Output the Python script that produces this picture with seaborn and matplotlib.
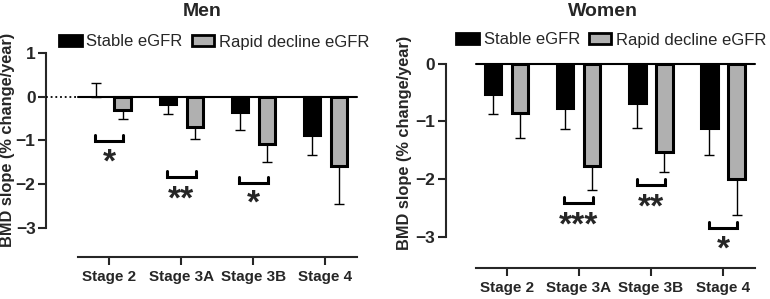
import numpy as np
import pandas as pd
import matplotlib
matplotlib.use("Agg")
import matplotlib.pyplot as plt
import matplotlib.transforms as mtransforms
from matplotlib.patches import Patch
import seaborn as sns

# data
stages = ["Stage 2", "Stage 3A", "Stage 3B", "Stage 4"]
groups = ["Stable eGFR", "Rapid decline eGFR"]

men_stable = [0.0, -0.18, -0.36, -0.89]
men_stable_err = [0.30, 0.22, 0.41, 0.44]
men_rapid = [-0.30, -0.70, -1.08, -1.58]
men_rapid_err = [0.22, 0.28, 0.42, 0.87]

women_stable = [-0.52, -0.76, -0.68, -1.11]
women_stable_err = [0.35, 0.37, 0.44, 0.46]
women_rapid = [-0.85, -1.76, -1.53, -1.99]
women_rapid_err = [0.43, 0.42, 0.34, 0.62]

# significance marks: stage index, bracket level, star level, label
men_sig_idx = [0, 1, 2]
men_sig_line = [-1.02, -1.83, -1.97]
men_sig_star = [-1.36, -2.2, -2.3]
men_sig_txt = ["*", "**", "*"]

women_sig_idx = [1, 2, 3]
women_sig_line = [-2.41, -2.10, -2.84]
women_sig_star = [-2.68, -2.37, -3.1]
women_sig_txt = ["***", "**", "*"]

BLACK = "#000000"
GREY = "#b0b0b0"

sns.set_style("ticks")
plt.rcParams["font.family"] = ["Liberation Sans", "DejaVu Sans"]
plt.rcParams["axes.linewidth"] = 1.5

W, H = 770, 299
fig = plt.figure(figsize=(W / 100, H / 100), dpi=100)


def px_axes(l, r, t, b):
    return fig.add_axes([l / W, (H - b) / H, (r - l) / W, (b - t) / H])


def panel(ax, stable, stable_err, rapid, rapid_err, ylim, ybounds, xlim,
          sig_idx, sig_line, sig_star, sig_txt, tip, dotted):
    df = pd.DataFrame({
        "stage": stages * 2,
        "group": [groups[0]] * 4 + [groups[1]] * 4,
        "value": stable + rapid,
    })
    sns.barplot(data=df, x="stage", y="value", hue="group", order=stages,
                hue_order=groups, palette=[BLACK, GREY], width=0.75, gap=0.4,
                edgecolor="black", linewidth=2.2, errorbar=None, legend=False,
                saturation=1, ax=ax, zorder=3)
    errs = [stable_err, rapid_err]
    for cont, err in zip(ax.containers, errs):
        xs = [p.get_x() + p.get_width() / 2 for p in cont.patches]
        ys = [p.get_height() for p in cont.patches]
        for p in cont.patches:
            if p.get_height() == 0:
                p.set_linewidth(0)  # empty bar, nothing drawn
        lo = [e if y < 0 else 0 for y, e in zip(ys, err)]
        hi = [e if y >= 0 else 0 for y, e in zip(ys, err)]
        ax.errorbar(xs, ys, yerr=[lo, hi], fmt="none", ecolor="black",
                    elinewidth=1.0, capsize=3.3, capthick=1.0, zorder=2)

    # zero line
    ax.plot([-0.43, 3.44], [0, 0], color="black", lw=1.5, zorder=4,
            clip_on=False)
    if dotted:
        ax.plot([xlim[0], -0.43], [0, 0], color="black", lw=1.3,
                ls=(0, (1, 1.6)), zorder=4, clip_on=False)

    star_tr = mtransforms.offset_copy(ax.transData, fig=fig, x=0, y=-5,
                                      units="points")
    for i, yl, ys, t in zip(sig_idx, sig_line, sig_star, sig_txt):
        ax.plot([i - 0.2, i - 0.2, i + 0.2, i + 0.2],
                [yl + tip, yl, yl, yl + tip], color="black", lw=2.2,
                solid_joinstyle="miter", zorder=4)
        ax.text(i, ys, t, ha="center", va="center", fontsize=24,
                fontweight="bold", transform=star_tr)

    ax.set_xlim(*xlim)
    ax.set_ylim(*ylim)
    ax.spines["top"].set_visible(False)
    ax.spines["right"].set_visible(False)
    ax.spines["left"].set_bounds(*ybounds)
    ax.spines["bottom"].set_bounds(-0.43, 3.44)
    ticks = np.arange(ybounds[0], ybounds[1] + 1)
    ax.set_yticks(ticks)
    ax.set_yticklabels([f"{v:d}".replace("-", "\u2212") for v in ticks])
    ax.tick_params(axis="y", length=5.5, width=1.5, pad=2, labelsize=12.5)
    ax.tick_params(axis="x", length=5.5, width=1.5, pad=4, labelsize=11)
    for lab in ax.get_xticklabels() + ax.get_yticklabels():
        lab.set_fontweight("bold")
    ax.set_xlabel("")
    ax.set_ylabel("BMD slope (% change/year)", fontsize=11.8,
                  fontweight="bold")


# Men
ax1 = px_axes(46, 357, 52.7, 257)
panel(ax1, men_stable, men_stable_err, men_rapid, men_rapid_err,
      ylim=(-3.664, 1.0), ybounds=(-3, 1), xlim=(-0.875, 3.44),
      sig_idx=men_sig_idx, sig_line=men_sig_line, sig_star=men_sig_star,
      sig_txt=men_sig_txt, tip=0.14, dotted=True)
ax1.yaxis.set_label_coords((15 - 46) / 311, (257 - 140) / 204.3)

# Women
ax2 = px_axes(445.7, 754, 63.5, 268)
panel(ax2, women_stable, women_stable_err, women_rapid, women_rapid_err,
      ylim=(-3.526, 0.0), ybounds=(-3, 0), xlim=(-0.847, 3.43),
      sig_idx=women_sig_idx, sig_line=women_sig_line, sig_star=women_sig_star,
      sig_txt=women_sig_txt, tip=0.1, dotted=False)
ax2.yaxis.set_label_coords((412 - 445.7) / 308.3, (268 - 143) / 204.5)

fig.text(201.7 / W, 1 - 11 / H, "Men", ha="center", va="center",
         fontsize=14, fontweight="bold")
fig.text(603 / W, 1 - 11 / H, "Women", ha="center", va="center",
         fontsize=14, fontweight="bold")

handles = [Patch(facecolor=BLACK, edgecolor="black", lw=2),
           Patch(facecolor=GREY, edgecolor="black", lw=2)]
for x0, y0 in [(59, 42), (456, 40)]:
    fig.legend(handles, groups, loc="center left",
               bbox_to_anchor=(x0 / W, 1 - y0 / H), ncol=2, frameon=False,
               fontsize=12, handlelength=1.35, handleheight=0.6,
               handletextpad=0.3, columnspacing=0.55, borderpad=0,
               borderaxespad=0)

fig.savefig("out.png", dpi=100)
